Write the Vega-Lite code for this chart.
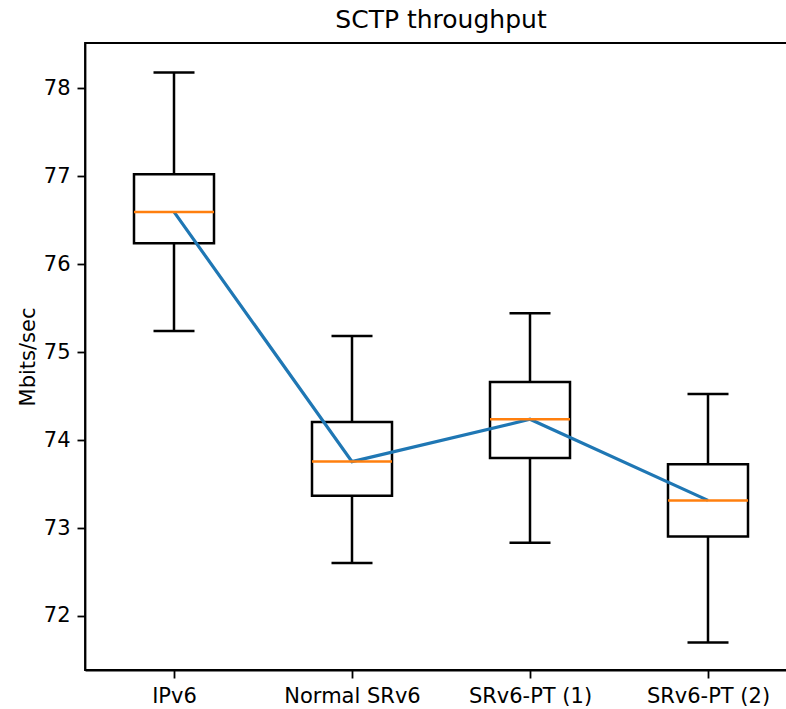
{
  "$schema": "https://vega.github.io/schema/vega-lite/v6.json",
  "width": 712,
  "height": 627,
  "autosize": {"type": "none"},
  "padding": {"left": 85, "top": 43, "right": -11, "bottom": 39},
  "background": "white",
  "title": {
    "text": "SCTP throughput",
    "font": "DejaVu Sans",
    "fontSize": 25,
    "fontWeight": "normal",
    "color": "black",
    "baseline": "alphabetic",
    "offset": -10
  },
  "config": {
    "view": {"stroke": "black", "strokeWidth": 1.8},
    "axis": {
      "domainColor": "black",
      "domainWidth": 1.8,
      "tickColor": "black",
      "tickWidth": 1.8,
      "tickSize": 8,
      "labelFont": "DejaVu Sans",
      "labelFontSize": 21,
      "labelColor": "black",
      "labelPadding": 7,
      "titleFont": "DejaVu Sans",
      "titleFontSize": 21,
      "titleFontWeight": "normal",
      "titleColor": "black",
      "grid": false
    }
  },
  "data": {
    "values": [
      {"cat": "IPv6", "lower": 75.24, "q1": 76.238, "median": 76.594, "q3": 77.022, "upper": 78.178},
      {"cat": "Normal SRv6", "lower": 72.603, "q1": 73.368, "median": 73.755, "q3": 74.206, "upper": 75.184},
      {"cat": "SRv6-PT (1)", "lower": 72.834, "q1": 73.796, "median": 74.236, "q3": 74.66, "upper": 75.442},
      {"cat": "SRv6-PT (2)", "lower": 71.70, "q1": 72.905, "median": 73.314, "q3": 73.725, "upper": 74.524}
    ]
  },
  "encoding": {
    "x": {
      "field": "cat",
      "type": "nominal",
      "sort": null,
      "scale": {"type": "point", "padding": 0.5},
      "axis": {"title": null, "labelAngle": 0}
    }
  },
  "layer": [
    {
      "mark": {"type": "bar", "size": 80, "fill": null, "fillOpacity": 0, "stroke": "black", "strokeWidth": 2.5},
      "encoding": {
        "y": {
          "field": "q1",
          "type": "quantitative",
          "scale": {"domain": [71.386, 78.514], "nice": false, "zero": false},
          "axis": {"title": "Mbits/sec", "values": [72, 73, 74, 75, 76, 77, 78], "format": "d", "titlePadding": 5}
        },
        "y2": {"field": "q3"}
      }
    },
    {
      "mark": {"type": "rule", "color": "black", "strokeWidth": 2.5},
      "encoding": {
        "y": {"field": "lower", "type": "quantitative"},
        "y2": {"field": "q1"}
      }
    },
    {
      "mark": {"type": "rule", "color": "black", "strokeWidth": 2.5},
      "encoding": {
        "y": {"field": "q3", "type": "quantitative"},
        "y2": {"field": "upper"}
      }
    },
    {
      "mark": {"type": "tick", "color": "black", "size": 41, "thickness": 2.5, "opacity": 1},
      "encoding": {"y": {"field": "lower", "type": "quantitative"}}
    },
    {
      "mark": {"type": "tick", "color": "black", "size": 41, "thickness": 2.5, "opacity": 1},
      "encoding": {"y": {"field": "upper", "type": "quantitative"}}
    },
    {
      "mark": {"type": "line", "color": "#1f77b4", "strokeWidth": 3.2},
      "encoding": {"y": {"field": "median", "type": "quantitative"}}
    },
    {
      "mark": {"type": "tick", "color": "#ff7f0e", "size": 80, "thickness": 2.5, "opacity": 1},
      "encoding": {"y": {"field": "median", "type": "quantitative"}}
    }
  ]
}
